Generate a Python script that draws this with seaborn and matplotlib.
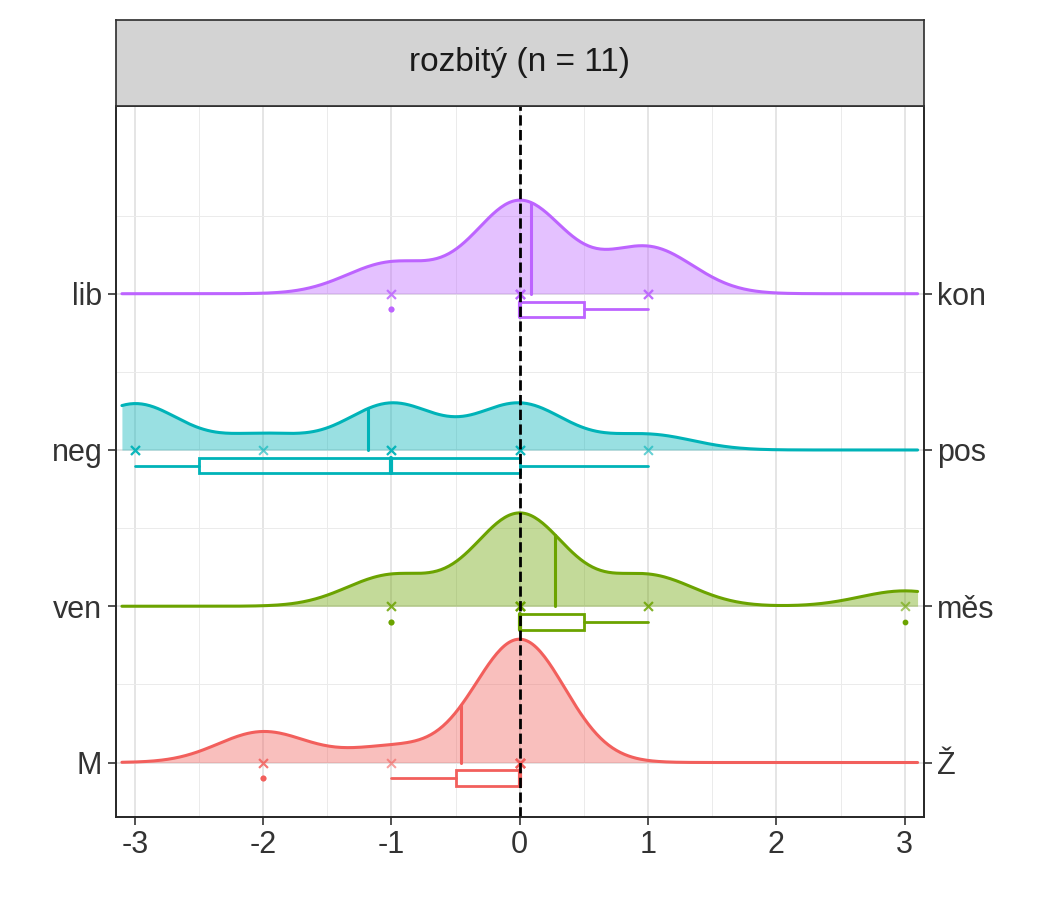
import matplotlib.pyplot as plt
import numpy as np
import seaborn as sns

groups = ['M', 'ven', 'neg', 'lib']
right_labels = ['Ž', 'měs', 'pos', 'kon']
colors = ['#F25F5C', '#6BA300', '#00B3B8', '#BD64FF']
values = {
    'M':   [-2, -2, -1, 0, 0, 0, 0, 0, 0, 0, 0],
    'ven': [-1, -1, 0, 0, 0, 0, 0, 0, 1, 1, 3],
    'neg': [-3, -3, -3, -2, -1, -1, -1, 0, 0, 0, 1],
    'lib': [-1, -1, 0, 0, 0, 0, 0, 0, 1, 1, 1],
}
title = 'rozbitý (n = 11)'

sns.set_theme(style='ticks')
plt.rcParams['font.family'] = ['Arial', 'Liberation Sans', 'DejaVu Sans']
plt.rcParams['axes.unicode_minus'] = False

fig = plt.figure(figsize=(10.5, 9), dpi=100)
ax = fig.add_axes([0.11, 0.092, 0.77, 0.79])
bw = 0.35
scale = 0.95
xs = np.linspace(-3.1, 3.1, 400)

def kde(v, x):
    v = np.asarray(v, float)
    return np.exp(-0.5 * ((x[:, None] - v[None, :]) / bw) ** 2).sum(1) / (len(v) * bw * np.sqrt(2 * np.pi))

for i, (g, c) in enumerate(zip(groups, colors)):
    v = np.array(values[g], float)
    d = kde(v, xs) * scale
    ax.fill_between(xs, i, i + d, color=c, alpha=0.4, lw=0)
    ax.plot(xs, i + d, color=c, lw=2.2)
    m = v.mean()
    ax.plot([m, m], [i, i + kde(v, np.array([m]))[0] * scale], color=c, lw=2.2)
    ax.scatter(v, np.full(len(v), i), marker='x', color=c, alpha=0.6, s=40, lw=1.5, zorder=3)
    q1, med, q3 = np.percentile(v, [25, 50, 75])
    iqr = q3 - q1
    inl = v[(v >= q1 - 1.5 * iqr) & (v <= q3 + 1.5 * iqr)]
    out = v[(v < q1 - 1.5 * iqr) | (v > q3 + 1.5 * iqr)]
    yb, h = i - 0.1, 0.1
    ax.add_patch(plt.Rectangle((q1, yb - h / 2), q3 - q1, h, fill=False, ec=c, lw=2, zorder=4))
    ax.plot([med, med], [yb - h / 2, yb + h / 2], color=c, lw=3, zorder=4)
    ax.plot([inl.min(), q1], [yb, yb], color=c, lw=2)
    ax.plot([q3, inl.max()], [yb, yb], color=c, lw=2)
    ax.scatter(out, np.full(len(out), yb), color=c, s=10, zorder=4)

ax.axvline(0, color='black', ls='--', lw=2, zorder=5)
ax.set_xlim(-3.15, 3.15)
ax.set_ylim(-0.35, 4.2)
ax.set_xticks(range(-3, 4))
ax.set_xticks(np.arange(-2.5, 3, 1), minor=True)
ax.set_yticks(range(4))
ax.set_yticklabels(groups)
ax.set_yticks(np.arange(0.5, 4, 1), minor=True)
ax.grid(True, which='major', color='#E3E3E3', lw=1.3)
ax.grid(True, which='minor', color='#EBEBEB', lw=0.7)
ax.set_axisbelow(True)
ax.tick_params(labelsize=22, colors='#333333', length=6, width=1.2)
ax.tick_params(axis='both', which='minor', length=0)
for s in ax.spines.values():
    s.set_color('#333333')

ax2 = ax.twinx()
ax2.set_ylim(ax.get_ylim())
ax2.set_yticks(range(4))
ax2.set_yticklabels(right_labels)
ax2.tick_params(labelsize=22, length=6, width=1.2, colors='#333333')

strip = fig.add_axes([0.11, 0.882, 0.77, 0.096])
strip.set_facecolor('#D3D3D3')
strip.set_xticks([]); strip.set_yticks([])
for s in strip.spines.values():
    s.set_color('#333333')
strip.text(0.5, 0.5, title, ha='center', va='center', fontsize=24, color='#1A1A1A')

fig.savefig('out.png', dpi=100)
